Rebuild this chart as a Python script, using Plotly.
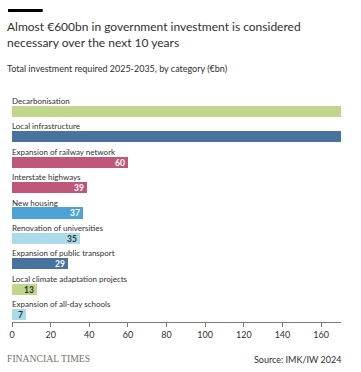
import plotly.graph_objects as go

categories = ["Decarbonisation", "Local infrastructure", "Expansion of railway network",
              "Interstate highways", "New housing", "Renovation of universities",
              "Expansion of public transport", "Local climate adaptation projects",
              "Expansion of all-day schools"]
values = [200, 177, 60, 39, 37, 35, 29, 13, 7]
colors = ["#bfd68b", "#48739f", "#c0577a", "#c0577a", "#4da3d8", "#a9dbeb",
          "#48739f", "#bfd68b", "#a9dbeb"]
label_colors = ["#33302e", "#ffffff", "#ffffff", "#ffffff", "#ffffff", "#33302e",
                "#ffffff", "#33302e", "#33302e"]
x_ticks = [0, 20, 40, 60, 80, 100, 120, 140, 160]
x_max = 170.3

W, H = 361, 372
L, R, T, B = 9, 20, 96, 50
pw, ph = W - L - R, H - T - B

def px(x):
    return (x - L) / pw

def py(y):
    return (H - B - y) / ph

FONT = "Lato"

fig = go.Figure()
fig.add_trace(go.Bar(
    y=categories, x=values, orientation="h",
    marker=dict(color=colors, line=dict(width=0)),
    width=0.44,
    text=[str(v) if v <= x_max else "" for v in values],
    textposition="inside", insidetextanchor="end",
    textfont=dict(color=label_colors, size=8.5, family=FONT, weight="bold"),
    textangle=0, constraintext="none", cliponaxis=True,
    hoverinfo="skip",
))

for c in categories:
    fig.add_annotation(x=0, y=c, xref="x", yref="y", text=c, showarrow=False,
                       xanchor="left", yanchor="middle", yshift=10.5, xshift=-2,
                       font=dict(size=8, color="#33302e", family=FONT))

fig.add_shape(type="rect", xref="paper", yref="paper",
              x0=px(5), x1=px(40), y0=py(12), y1=py(9),
              fillcolor="#000000", line=dict(width=0))

fig.add_annotation(xref="paper", yref="paper", x=px(5), y=py(34), xanchor="left",
                   yanchor="middle", showarrow=False, align="left", xshift=-3,
                   text="Almost €600bn in government investment is considered<br>necessary over the next 10 years",
                   font=dict(size=12, color="#33302e", family=FONT))
fig.add_annotation(xref="paper", yref="paper", x=px(5), y=py(69), xanchor="left",
                   yanchor="middle", showarrow=False, xshift=-3,
                   text="Total investment required 2025-2035, by category (€bn)",
                   font=dict(size=9, color="#33302e", family=FONT))
fig.add_annotation(xref="paper", yref="paper", x=px(5), y=py(358), xanchor="left",
                   yanchor="middle", showarrow=False, text="FINANCIAL TIMES", xshift=-3,
                   font=dict(size=9.7, color="#7a726c", family="Liberation Serif"))
fig.add_annotation(xref="paper", yref="paper", x=px(341), y=py(359), xanchor="right",
                   yanchor="middle", showarrow=False, text="Source: IMK/IW 2024", xshift=2,
                   font=dict(size=9, color="#33302e", family=FONT))

fig.update_layout(
    width=W, height=H, margin=dict(l=L, r=R, t=T, b=B, pad=0),
    paper_bgcolor="#ffffff", plot_bgcolor="#ffffff",
    showlegend=False, bargap=0,
    xaxis=dict(range=[0, x_max], tickvals=x_ticks, ticktext=[str(t) for t in x_ticks],
               showgrid=False, zeroline=False, showline=True, linecolor="#807973",
               linewidth=1, ticks="outside", ticklen=4, tickcolor="#807973",
               tickfont=dict(size=9, color="#33302e", family=FONT), fixedrange=True),
    yaxis=dict(type="category", categoryorder="array", categoryarray=categories,
               range=[8.295, -0.61], showticklabels=False, showgrid=False,
               zeroline=False, showline=False, ticks="", fixedrange=True),
    uniformtext=dict(mode=False),
)

fig.write_html("out.html", config={"displayModeBar": False},
               post_script="document.body.style.margin='0';document.body.style.overflow='hidden';")
